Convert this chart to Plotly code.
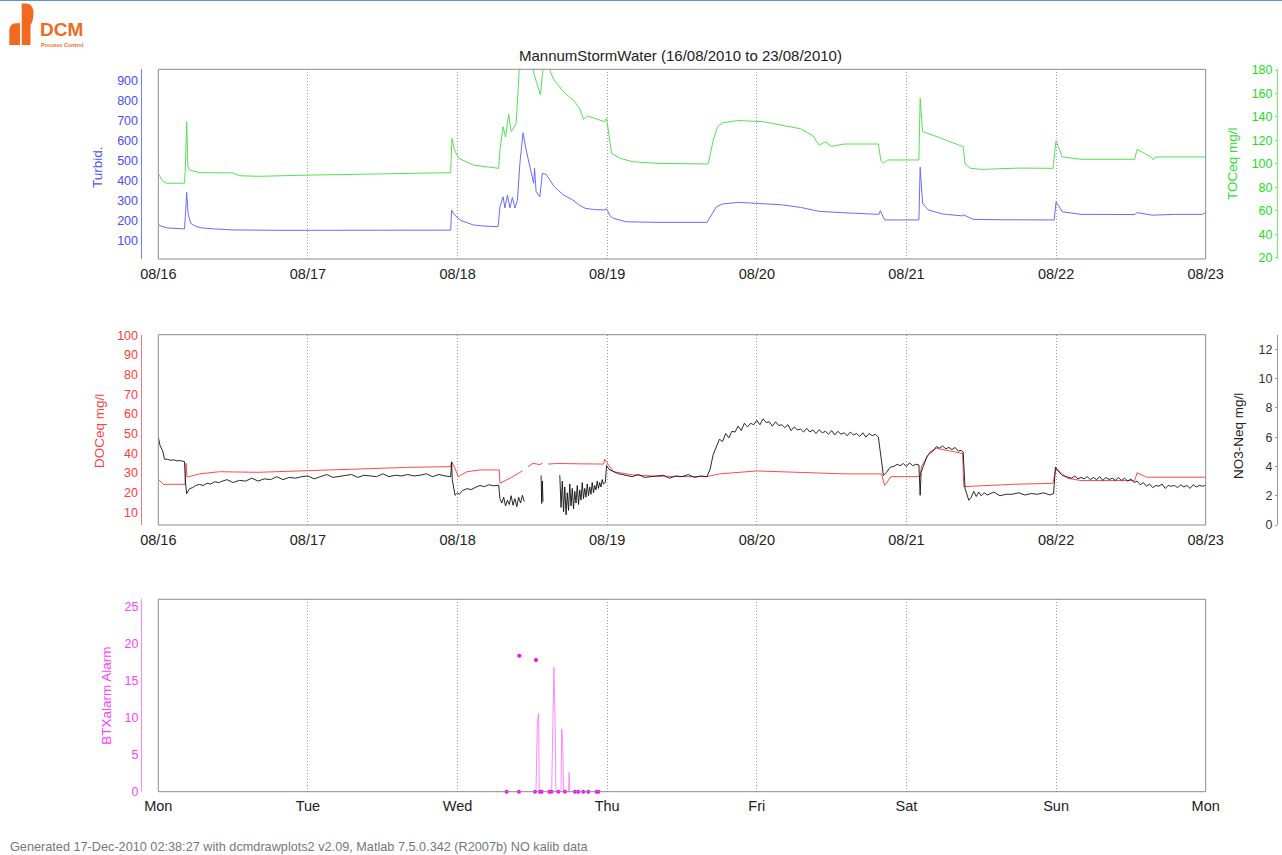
import pandas as pd
import plotly.graph_objects as go

W, H = 1282, 855
BASE = pd.Timestamp("2010-08-16 00:00")
END = pd.Timestamp("2010-08-23 00:00")

# ---------------- data (hours after 16/08/2010 00:00) ----------------
turbid_hours = [0, 0.5, 1.5, 4.2, 4.4, 4.55, 4.8, 5.2, 6, 7, 9, 12, 20, 30, 40, 46.9, 47.05, 47.6, 48.5, 50.5,
                52, 54.5, 54.8, 55.3, 55.6, 56.0, 56.4, 56.8, 57.2, 57.6, 58.0, 58.5, 59.0, 59.6, 60.2, 60.35,
                60.6, 61.2, 61.6, 62.2, 63.5, 65, 66.5, 67.5, 68.5, 70, 71.6, 71.9, 72.5, 73, 75, 80, 88, 88.5,
                89.5, 90.5, 93, 96, 100, 103, 106, 110, 113, 115.6, 115.8, 116.5, 122, 122.2, 122.6, 123.5,
                125.8, 129, 129.1, 130.7, 135, 143.7, 144, 145, 148, 156.6, 157, 159.4, 163, 167.5, 168]
turbid_values = [180, 170, 162, 157, 250, 340, 230, 185, 170, 162, 157, 152, 150, 151, 151, 151, 251, 225, 200, 177,
                 172, 168, 268, 318, 262, 327, 262, 315, 262, 300, 486, 639, 553, 469, 386, 461,
                 344, 318, 436, 431, 369, 327, 302, 277, 260, 254, 252, 258, 220, 210, 193, 190, 190, 215,
                 268, 282, 290, 285, 278, 265, 245, 238, 232, 230, 248, 202, 202, 466, 285, 252,
                 232, 222, 228, 205, 203, 202, 293, 243, 230, 229, 239, 226, 230, 230, 240]

toc_hours = [0, 0.6, 1.3, 4.2, 4.35, 4.55, 4.75, 5, 6.6, 12, 13, 16, 24, 30, 36, 42, 46.9, 47.1, 47.5, 48.2,
             50.5, 54.6, 54.8, 55.3, 55.7, 56.2, 56.6, 57.4, 57.8, 58.0, 59.0, 60.0, 60.3, 61.3, 61.6, 61.9,
             62.6, 62.9, 63.5, 65, 66.8, 67.7, 68.2, 68.8, 71.6, 71.9, 72.7, 74.1, 76, 80, 88.2, 89, 89.7,
             90.5, 93, 97, 100, 103, 105, 106, 107, 108, 110, 113, 115.5, 115.9, 116.3, 117, 122, 122.2,
             122.6, 125, 129.1, 129.4, 130.3, 132, 138, 143.5, 144, 145, 148, 156.6, 157, 159.2, 159.6, 160, 168]
toc_values = [92, 86, 83.6, 83.6, 97.7, 136, 98, 95, 92.6, 92.4, 90, 89.5, 90.5, 91, 92, 92.5, 92.6, 121.9, 112, 104.8,
              99.1, 96.3, 112, 131.7, 123, 142.5, 127.5, 134.6, 174, 190, 200, 185, 176, 158.7, 176, 190,
              190, 178, 171.5, 161.5, 153, 146, 138, 141, 136, 139, 109, 104.8, 102, 100.5, 100, 120, 131.7,
              135, 137, 136, 133, 130, 124, 116, 119, 115, 117, 117, 117, 103, 100.6, 103.4, 103.4, 155.9,
              127.5, 123, 114.7, 100, 96.3, 95.4, 96.5, 96.3, 119.8, 106, 104, 104, 112.5, 106, 103.5, 106, 106]

doc_hours = [0, 0.8, 4.3, 4.45, 4.6, 5.0, 6.6, 9.8, 16, 24, 30, 36, 40, 46.9, 47.05, 47.5, 48.1, 49.5, 51.6, 54.7,
             54.8, 56.4, 58.0, 58.4, None, 59.3, 60.1, 61.2, 61.6, None, 62.5, 64, 68, 71.4, 71.6, 73, 76, 80,
             88, 90, 96, 100, 105, 110, 116, 116.5, 117.5, 122.2, 122.4, 123.8, 124.8, 129, 129.2, 132, 137,
             143.5, 144, 145.8, 148, 156.6, 157, 158.5, 168]
doc_values = [26.8, 24.2, 24.2, 34.9, 28, 28.1, 29.5, 30.6, 30.3, 31.2, 31.5, 32.5, 32.8, 33.2, 35.7, 33, 28.1, 30.6, 31.5, 31.5,
              24.7, 27.3, 30.2, 31, None, 33.2, 34.9, 34.2, 35, None, 34.5, 34.8, 34.6, 34.5, 36.9, 30.6, 29.0, 28.3,
              28.1, 29.5, 31, 30.5, 30, 29.5, 29.5, 23.5, 28.1, 28.1, 33.2, 40.8, 42.5, 39.9, 23.0, 23.5, 24.2,
              24.7, 32.4, 27.3, 26.1, 26.1, 30.1, 27.8, 27.8]

no3_hours = [0, 0.3, 0.7, 1.0, 1.5, 2, 2.5, 3, 3.5, 4.2, 4.35, 4.55, 5.0, 5.5, 6.0, 6.6, 7.2, 7.8, 8.4, 9.0, 9.8,
             10, 11, 12, 13, 14, 15, 16, 17, 18, 19, 20, 21, 22, 23, 24, 25, 26, 27, 28, 29, 30, 31, 32, 33, 34,
             35, 36, 37, 38, 39, 40, 41, 42, 43, 44, 45, 46,
             46.9, 47.05, 47.15, 47.6, 48.0, 48.3, 48.8, 49.5, 50.2, 51.0, 51.6, 52.3, 53.0, 53.8, 54.6,
             54.8, 55.1, 55.4, 55.7, 56.0, 56.3, 56.6, 56.9, 57.2, 57.5, 57.8, 58.1, 58.4, 58.7, None,
             61.4, 61.5, 61.6, 61.7, None,
             64.4, 64.6, 64.8, 65.0, 65.2, 65.4, 65.6, 65.8, 66.0, 66.2, 66.4, 66.6, 66.8, 67.0, 67.2, 67.4,
             67.6, 67.8, 68.0, 68.2, 68.4, 68.6, 68.8, 69.0, 69.2, 69.4, 69.6, 69.8, 70.0, 70.2, 70.4, 70.6,
             70.8, 71.0, 71.2, 71.4, 71.7,
             71.9, 72.3, 72.8, 73.3, 73.8, 74.4, 75,
             76, 77, 78, 79, 80, 81, 82, 83, 84, 85, 86, 87, 88,
             88.5, 89, 89.5, 90,
             90.5, 91, 91.5, 92, 92.5, 93, 93.5, 94, 94.5, 95, 95.5, 96, 96.5, 97, 97.5, 98, 98.5, 99, 99.5, 100,
             100.5, 101, 101.5, 102, 102.5, 103, 103.5, 104, 104.5, 105, 105.5, 106, 106.5, 107, 107.5, 108,
             108.5, 109, 109.5, 110, 110.5, 111, 111.5, 112, 112.5, 113, 113.5, 114, 114.5, 115,
             115.5, 116.0, 116.3, 116.8, 117.4, 118, 118.5, 119, 119.5, 120, 120.5, 121, 121.5, 122.0, 122.2,
             122.35, 122.8, 123.3, 123.8, 124.3, 124.8, 125.3, 125.8, 126.3, 126.8, 127.3, 127.8, 128.3, 128.8,
             129.1, 129.4, 130.0, 130.4, 130.8, 131.2, 131.6, 132.0, 132.5,
             133, 134, 135, 136, 137, 138, 139, 140, 141, 142, 143, 143.6, 143.9, 144.3, 145, 145.8,
             146.5, 147, 147.5, 148, 148.5, 149, 149.5, 150, 150.5, 151, 151.5, 152, 152.5, 153, 153.5, 154,
             154.5, 155, 155.5, 156, 156.5, 157, 157.5, 158, 158.5, 159, 159.5, 160, 160.5, 161, 161.5, 162,
             162.5, 163, 163.5, 164, 164.5, 165, 165.5, 166, 166.5, 167, 167.5, 168]
no3_values = [6.0, 5.4, 5.07, 4.5, 4.48, 4.42, 4.45, 4.38, 4.4, 4.33, 2.94, 2.14, 2.48, 2.55, 2.7, 2.77, 2.7, 2.85, 2.8, 2.95, 2.9,
              2.95, 3.1, 2.9, 3.05, 3.0, 3.2, 3.0, 3.15, 3.1, 3.3, 3.1, 3.25, 3.2, 3.3, 3.35, 3.15, 3.3, 3.45, 3.25,
              3.3, 3.35, 3.45, 3.25, 3.4, 3.35, 3.3, 3.5, 3.3, 3.4, 3.35, 3.45, 3.35, 3.4, 3.5, 3.3, 3.45, 3.35,
              3.3, 4.3, 3.1, 2.03, 2.2, 2.1, 2.35, 2.48, 2.42, 2.6, 2.7, 2.62, 2.75, 2.68, 2.72,
              1.8, 1.5, 1.9, 1.3, 1.7, 1.4, 2.0, 1.35, 1.8, 1.25, 1.9, 1.5, 2.03, 1.6, None,
              3.38, 1.47, 3.0, 1.6, None,
              3.4, 1.2, 3.0, 0.9, 2.6, 0.7, 2.2, 1.0, 2.8, 1.3, 2.5, 1.1, 2.3, 1.5, 2.7, 1.4,
              2.4, 1.7, 2.9, 1.8, 2.5, 1.9, 2.8, 2.0, 2.6, 2.1, 2.9, 2.2, 2.7, 2.4, 3.0, 2.5,
              2.9, 2.6, 3.1, 2.8, 2.9,
              4.06, 3.8, 3.7, 3.6, 3.5, 3.45, 3.38,
              3.3, 3.45, 3.25, 3.3, 3.35, 3.4, 3.2, 3.35, 3.3, 3.45, 3.25, 3.35, 3.3,
              3.8, 4.8, 5.4, 5.86,
              5.7, 6.25, 5.95, 6.4, 6.35, 6.75, 6.45, 6.95, 6.7, 6.95, 6.85, 7.15, 6.85, 7.25, 7.0, 7.05, 6.75, 7.05, 6.8, 6.85,
              6.65, 6.85, 6.45, 6.7, 6.5, 6.55, 6.35, 6.6, 6.35, 6.5, 6.25, 6.5, 6.3, 6.4, 6.2, 6.45,
              6.15, 6.4, 6.2, 6.3, 6.1, 6.35, 6.15, 6.25, 6.05, 6.3, 6.0, 6.25, 6.1, 6.2,
              6.0, 4.5, 3.38, 3.6, 3.95, 4.0, 4.15, 4.05, 4.2, 4.0, 4.25, 4.05, 4.15, 4.1, 2.03,
              3.6, 4.2, 4.7, 4.9, 5.07, 5.35, 5.25, 5.4, 5.2, 5.3, 5.15, 5.3, 5.05, 5.1,
              4.97, 2.5, 1.69, 1.9, 2.3, 1.95, 2.25, 2.0, 2.2,
              2.05, 2.25, 2.0, 2.1, 2.1, 2.2, 2.05, 2.15, 2.1, 2.2, 2.05, 2.15, 3.95, 3.7, 3.38, 3.3,
              3.2, 3.35, 3.15, 3.25, 3.15, 3.3, 3.1, 3.25, 3.1, 3.3, 3.05, 3.25, 3.1, 3.2, 3.05, 3.25,
              3.05, 3.2, 3.0, 3.15, 2.9, 3.0, 2.75, 2.9, 2.65, 2.8, 2.55, 2.7, 2.65, 2.8, 2.5, 2.7,
              2.65, 2.7, 2.55, 2.75, 2.6, 2.7, 2.5, 2.75, 2.6, 2.7, 2.65, 2.7]

btx_line_hours = [60.58, 60.79, 61.0, 61.1, 61.27, None, 63.09, 63.25, 63.46, 63.62, 63.78, None,
                  64.6, 64.7, 64.86, 65.0, None, 65.8, 65.9, 66.0]
btx_line_values = [0, 9.2, 10.6, 0, 0, None, 0, 7.6, 16.8, 10.7, 0, None,
                   0, 8.5, 7.1, 0, None, 0, 2.6, 0]
btx_dot_hours = [55.87, 57.85, 57.9, 60.42, 60.58, 61.22, 61.49, 62.72, 63.09, 64.16, 65.23, 66.83,
                 67.37, 68.17, 68.97, 70.31, 70.58]
btx_dot_values = [0, 0, 18.37, 0, 17.8, 0, 0, 0, 0, 0, 0, 0, 0, 0, 0, 0, 0]

turbid_ticks = [100, 200, 300, 400, 500, 600, 700, 800, 900]
toc_ticks = [20, 40, 60, 80, 100, 120, 140, 160, 180]
doc_ticks = [10, 20, 30, 40, 50, 60, 70, 80, 90, 100]
no3_ticks = [0, 2, 4, 6, 8, 10, 12]
btx_ticks = [0, 5, 10, 15, 20, 25]

TITLE = "MannumStormWater (16/08/2010 to 23/08/2010)"
FOOTER = "Generated 17-Dec-2010 02:38:27 with dcmdrawplots2 v2.09, Matlab 7.5.0.342 (R2007b) NO kalib data"


def to_time(hours):
    return [None if h is None else BASE + pd.Timedelta(hours=h) for h in hours]


def px(x):
    return x / W


def py(y):
    return 1 - y / H


FONT = "Liberation Sans, Arial, Helvetica, sans-serif"
C_BLUE, C_GREEN, C_RED, C_BLACK = "#6a6aff", "#55e055", "#ff4a4a", "#111111"

fig = go.Figure()
fig.add_trace(go.Scatter(x=to_time(turbid_hours), y=turbid_values, mode="lines",
                         line=dict(color=C_BLUE, width=1), xaxis="x", yaxis="y", showlegend=False))
fig.add_trace(go.Scatter(x=to_time(toc_hours), y=toc_values, mode="lines",
                         line=dict(color=C_GREEN, width=1), xaxis="x", yaxis="y2", showlegend=False))
fig.add_trace(go.Scatter(x=to_time(doc_hours), y=doc_values, mode="lines", connectgaps=False,
                         line=dict(color=C_RED, width=1), xaxis="x2", yaxis="y3", showlegend=False))
fig.add_trace(go.Scatter(x=to_time(no3_hours), y=no3_values, mode="lines", connectgaps=False,
                         line=dict(color=C_BLACK, width=0.9), xaxis="x2", yaxis="y4", showlegend=False))
fig.add_trace(go.Scatter(x=to_time(btx_line_hours), y=btx_line_values, mode="lines", connectgaps=False,
                         line=dict(color="#ff88ff", width=1), xaxis="x3", yaxis="y5", showlegend=False))
fig.add_trace(go.Scatter(x=to_time(btx_dot_hours), y=btx_dot_values, mode="markers",
                         marker=dict(color="#ff00ff", size=4), xaxis="x3", yaxis="y5", showlegend=False,
                         cliponaxis=False))

xdom = [px(158.3), px(1205.7)]
d1 = [py(259), py(69.3)]
d2 = [py(525), py(334.7)]
d3 = [py(791.7), py(599.3)]

xcommon = dict(domain=xdom, type="date", range=[BASE, END], dtick=86400000, tick0=BASE,
               showgrid=True, gridcolor="#9a9a9a", griddash="1px,2px", gridwidth=1,
               showline=False, zeroline=False, ticks="", automargin=False, ticklabelstandoff=4,
               tickfont=dict(size=14.5, color="#222222", family=FONT))


def yax(domain, rng, ticks, color, tcolor, position, overlay=None):
    d = dict(range=rng, tickvals=ticks, showgrid=False, zeroline=False, showline=True,
             linecolor=color, linewidth=1, anchor="free", position=position, side="left",
             tickfont=dict(size=12.5, color=tcolor, family=FONT), automargin=False)
    if overlay:
        d["overlaying"] = overlay
        d["ticks"] = "outside"
        d["ticklen"] = 2
        d["tickcolor"] = color
    else:
        d["domain"] = domain
        d["ticks"] = ""
    return d


fig.update_layout(
    width=W, height=H, margin=dict(l=0, r=0, t=0, b=0, pad=0),
    paper_bgcolor="white", plot_bgcolor="white",
    font=dict(family=FONT),
    xaxis=dict(xcommon, anchor="y", tickformat="%m/%d"),
    xaxis2=dict(xcommon, anchor="y3", tickformat="%m/%d"),
    xaxis3=dict(xcommon, anchor="y5", tickformat="%a"),
    yaxis=yax(d1, [6.3, 957], turbid_ticks, "#7777ff", "#4a4aff", px(140.5)),
    yaxis2=yax(d1, [19.1, 180.6], toc_ticks, "#77ee77", "#22dd22", px(1277), overlay="y"),
    yaxis3=yax(d2, [3.5, 100.3], doc_ticks, "#ff7777", "#ff3a3a", px(140.5)),
    yaxis4=yax(d2, [0, 13], no3_ticks, "#999999", "#333333", px(1277), overlay="y3"),
    yaxis5=yax(d3, [0, 26], btx_ticks, "#ff88ff", "#ff40ff", px(141)),
)

shapes = []
for xr, yr in [("x", "y"), ("x2", "y3"), ("x3", "y5")]:
    shapes.append(dict(type="rect", xref=f"{xr} domain", yref=f"{yr} domain", x0=0, x1=1, y0=0, y1=1,
                       line=dict(color="#8c8c8c", width=1), layer="above"))
# top border line
shapes.append(dict(type="line", xref="paper", yref="paper", x0=0, x1=1, y0=py(0.5), y1=py(0.5),
                   line=dict(color="#5b8fd6", width=1)))
# DCM logo
OR = "#f26a21"
stem = (f"M {px(21.7)},{py(45)} L {px(21.7)},{py(3.5)} L {px(26)},{py(3.5)} "
        f"Q {px(34)},{py(4)} {px(33.5)},{py(14)} Q {px(33)},{py(22)} {px(30.5)},{py(25)} "
        f"L {px(30.5)},{py(45)} Z")
block = (f"M {px(9.3)},{py(45)} L {px(9.3)},{py(30)} Q {px(10)},{py(23.5)} {px(16)},{py(23.3)} "
         f"L {px(20)},{py(23.3)} L {px(20)},{py(45)} Z")
shapes.append(dict(type="path", xref="paper", yref="paper", path=stem, fillcolor=OR, line=dict(width=0)))
shapes.append(dict(type="path", xref="paper", yref="paper", path=block, fillcolor=OR, line=dict(width=0)))
fig.update_layout(shapes=shapes)

ann = []
ann.append(dict(text="<b>DCM</b>", x=px(39), y=py(40.5), xref="paper", yref="paper", xanchor="left",
                yanchor="bottom", showarrow=False, borderpad=0,
                font=dict(size=19, color=OR, family=FONT)))
ann.append(dict(text="<b>Process Control</b>", x=px(40), y=py(40.8), xref="paper", yref="paper",
                xanchor="left", yanchor="top", showarrow=False, borderpad=0,
                font=dict(size=5.5, color=OR, family=FONT)))
ann.append(dict(text=TITLE, x=px(680), y=py(55), xref="paper", yref="paper", xanchor="center",
                yanchor="middle", showarrow=False, font=dict(size=15, color="#222222", family=FONT)))
for txt, x, y, col in [("Turbid.", 98, 167, "#5050ff"), ("TOCeq mg/l", 1233, 164, "#30dd30"),
                       ("DOCeq mg/l", 99, 431, "#ff4040"), ("NO3-Neq mg/l", 1238, 436, "#222222"),
                       ("BTXalarm Alarm", 105.7, 696, "#ff40ff")]:
    ann.append(dict(text=txt, x=px(x), y=py(y), xref="paper", yref="paper", xanchor="center",
                    yanchor="middle", textangle=-90, showarrow=False,
                    font=dict(size=13.5, color=col, family=FONT)))
ann.append(dict(text=FOOTER, x=px(8), y=py(847), xref="paper", yref="paper", xanchor="left",
                yanchor="middle", showarrow=False, font=dict(size=12.7, color="#777777", family=FONT)))
fig.update_layout(annotations=ann)

fig.write_html("out.html", config={"displayModeBar": False},
               post_script="document.body.style.margin='0';document.body.style.overflow='hidden';")
